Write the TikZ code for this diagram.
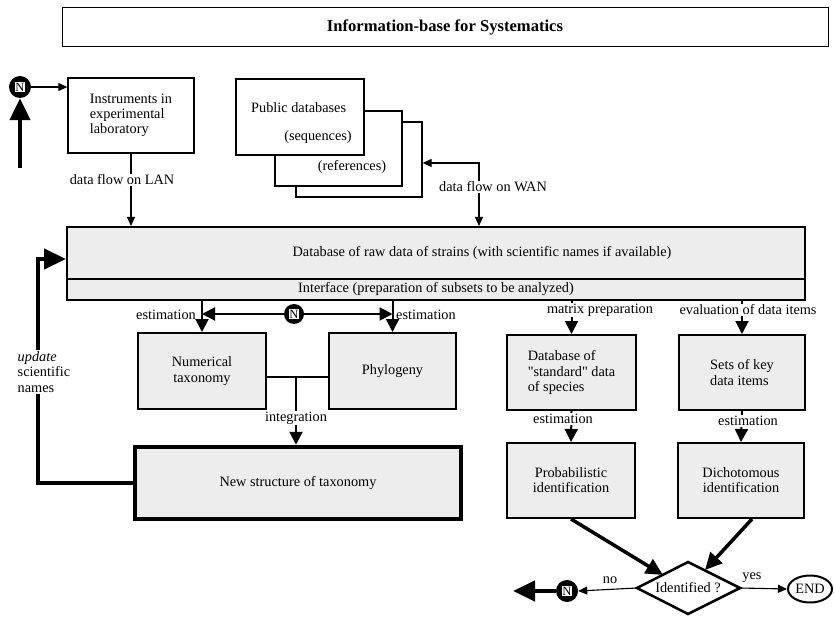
\documentclass[tikz,border=0pt]{standalone}
\usepackage{fontspec}
\setmainfont{Liberation Serif}
\newfontfamily\qfont{Liberation Serif}[Ligatures=TeXOff]
\usetikzlibrary{arrows.meta,shapes.geometric}
\begin{document}
\begin{tikzpicture}[x=1pt,y=-1pt,
  every node/.style={font=\fontsize{14.3}{15.2}\selectfont},
  plainbox/.style={draw,line width=1.3pt,fill=white,minimum width=#1,inner sep=0pt},
  shbox/.style={draw,line width=2pt,fill=black!7,inner sep=0pt},
  lbl/.style={fill=white,inner sep=1pt},
  thinarr/.style={line width=1.1pt,-{Triangle[length=9pt,width=8pt]}},
  medarr/.style={line width=2pt,-{Triangle[length=13pt,width=13pt]}},
  bigarr/.style={line width=4.5pt,-{Triangle[length=22pt,width=20pt]}},
  diagarr/.style={line width=3.5pt,-{Triangle[length=17pt,width=16pt]}},
  nring/.style={circle,fill=black,minimum size=22pt,inner sep=0pt},
  nbox/.style={fill=white,inner sep=0.6pt,font=\fontsize{12.5}{12.5}\selectfont}
]
\useasboundingbox (0,0) rectangle (834,617);

% title
\node[draw,line width=1pt,minimum width=766pt,minimum height=39pt,inner sep=0pt,
  font=\fontsize{16.6}{18}\selectfont\bfseries] (title) at (445,27.5) {Information-base for Systematics};

% top-left N
\node[nring] (n1) at (20,87) {};
\node[nbox] (n1t) at (n1) {N};
\coordinate (upstart) at (20,168);
\draw[bigarr] (upstart) -- (n1.south);

% instruments
\node[plainbox=126pt,minimum height=75pt,align=left] (instr) at (131,115.5)
  {Instruments in\\experimental\\laboratory};
\draw[thinarr] (n1.east) -- (n1.east -| instr.west);

% public databases
\node[plainbox=126pt,minimum height=75pt] (pub3) at (359,159.5) {};
\node[plainbox=127pt,minimum height=75pt] (pub2) at (338.5,148.5) {};
\node[plainbox=128pt,minimum height=76pt] (pub1) at (300,117) {};
\node[anchor=west,inner sep=0pt] (pubt) at (251,108) {Public databases};
\node[inner sep=0pt] (seq) at (318,137) {(sequences)};
\node[inner sep=0pt] (ref) at (352,167) {(references)};

% database of raw data + interface
\node[shbox,minimum width=738pt,minimum height=52pt] (db) at (436,253) {};
\node[inner sep=0pt] (dbt) at (482,253) {Database of raw data of strains (with scientific names if available)};
\node[shbox,minimum width=738pt,minimum height=21pt] (iface) at (436,289.5)
  {Interface (preparation of subsets to be analyzed)};

% LAN / WAN
\draw[thinarr] (instr.south) -- (instr.south |- db.north);
\node[lbl] (lan) at (122,180) {data flow on LAN};
\coordinate (wan) at (479,163);
\draw[line width=1.1pt,{Triangle[length=9pt,width=8pt]}-{Triangle[length=9pt,width=8pt]}]
  (pub3.east |- wan) -- (wan) -- (wan |- db.north);
\node[lbl] (want) at (493,187) {data flow on WAN};

% left branch
\node[shbox,minimum width=128pt,minimum height=76pt,align=center] (num) at (202,371) {Numerical\\taxonomy};
\node[shbox,minimum width=127pt,minimum height=76pt] (phy) at (392.5,371) {Phylogeny};
\node[draw,line width=4.5pt,fill=black!7,inner sep=0pt,minimum width=326pt,minimum height=72pt] (news) at (298,483)
  {New structure of taxonomy};

\draw[medarr] (num.north |- iface.south) -- (num.north);
\draw[medarr] (phy.north |- iface.south) -- (phy.north);
\node[nring,minimum size=20pt] (n2) at (294,314) {};
\node[nbox] (n2t) at (n2) {N};
\draw[medarr] (n2.west) -- (n2 -| num.north);
\draw[medarr] (n2.east) -- (n2 -| phy.north);
\node[anchor=east,inner sep=0pt] (est1) at (196,315) {estimation};
\node[anchor=west,inner sep=0pt] (est2) at (396,315) {estimation};

\coordinate (intg) at (296,377);
\draw[line width=2pt] (num.east |- intg) -- (phy.west |- intg);
\draw[medarr] (intg) -- (intg |- news.north);
\node[lbl] (intt) at (296,418) {integration};

% feedback
\coordinate (fb) at (38,259);
\draw[bigarr] (news.west) -| (fb) -- (fb -| db.west);
\node[lbl,anchor=west,align=left,inner sep=1.5pt] (upd) at (16,372) {\textit{update}\\scientific\\names};

% right branches
\node[shbox,minimum width=129pt,minimum height=75pt,align=left] (std) at (571.5,372.5)
  {Database of\\{\qfont"}standard{\qfont"} data\\of species};
\node[shbox,minimum width=126pt,minimum height=75pt,align=left] (sets) at (742,372.5)
  {Sets of key\\data items};
\node[shbox,minimum width=128pt,minimum height=75pt,align=center] (prob) at (571,480.5)
  {Probabilistic\\identification};
\node[shbox,minimum width=126pt,minimum height=75pt,align=center] (dich) at (741,480.5)
  {Dichotomous\\identification};

\draw[medarr] (std.north |- iface.south) -- (std.north);
\node[lbl] (mp) at (600,310) {matrix preparation};
\draw[medarr] (sets.north |- iface.south) -- (sets.north);
\node[lbl] (ev) at (748,310) {evaluation of data items};
\draw[medarr] (std.south) -- (prob.north);
\node[lbl] (est3) at (563,419) {estimation};
\draw[medarr] (sets.south) -- (dich.north);
\node[lbl] (est4) at (748,421) {estimation};

% decision
\coordinate (dT) at (688,562);
\coordinate (dR) at (740,588);
\coordinate (dB) at (688,614);
\coordinate (dL) at (637,588);
\draw[line width=2.5pt,line join=miter] (dT) -- (dR) -- (dB) -- (dL) -- cycle;
\node[inner sep=0pt] (idt) at (688,588) {Identified ?};
\coordinate (dUL) at (663,575);
\coordinate (dUR) at (705,570);
\draw[diagarr] (prob.south) -- (dUL);
\draw[diagarr] ([xshift=11pt]dich.south) -- (dUR);

\node[draw,ellipse,line width=2pt,minimum width=44pt,minimum height=27pt,inner sep=0pt] (endn) at (810,589) {END};
\draw[thinarr] (dR) -- (endn.west);
\node[inner sep=0pt] (yes) at (752,578) {yes};

\node[nring] (n3) at (567,591) {};
\node[nbox] (n3t) at (n3) {N};
\draw[thinarr] (dL) -- (n3.east);
\node[inner sep=0pt] (no) at (610,580) {no};
\coordinate (bigend) at (513,591);
\draw[bigarr] (n3.west) -- (bigend);
\end{tikzpicture}
\end{document}
